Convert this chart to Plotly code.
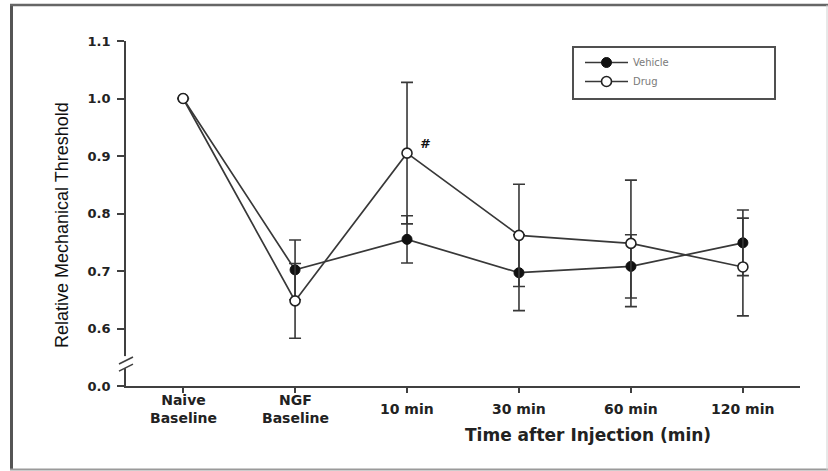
import plotly.graph_objects as go

# Time points and group means (relative mechanical threshold) with error values
time_points = ["Naive<br>Baseline", "NGF<br>Baseline", "10 min", "30 min", "60 min", "120 min"]
vehicle_mean = [1.0, 0.702, 0.755, 0.697, 0.708, 0.749]
vehicle_err = [None, 0.052, 0.041, 0.066, 0.055, 0.057]
drug_mean = [1.0, 0.648, 0.905, 0.762, 0.748, 0.707]
drug_err = [None, 0.065, 0.123, 0.089, 0.110, 0.085]

# Broken y axis: the bottom tick stands for 0.0 and sits one step below 0.6
y_tick_vals = [0.5, 0.6, 0.7, 0.8, 0.9, 1.0, 1.1]
y_tick_text = ["0.0", "0.6", "0.7", "0.8", "0.9", "1.0", "1.1"]

x_pos = list(range(len(time_points)))

W, H = 828, 471
ML, MR, MT, MB = 126, 28, 41, 85
PW, PH = W - ML - MR, H - MT - MB


def pxx(px):
    return (px - ML) / PW


def pxy(py):
    return (H - MB - py) / PH


LINE = "#383838"
AXIS = "#404040"
TXT = "#222222"

fig = go.Figure()

fig.add_trace(go.Scatter(
    x=x_pos, y=vehicle_mean, name="Vehicle", mode="lines+markers",
    line=dict(color=LINE, width=1.7),
    marker=dict(symbol="circle", size=10, color="#111111",
                line=dict(color="#111111", width=1)),
    error_y=dict(type="data", array=vehicle_err, visible=True,
                 color=LINE, thickness=1.6, width=6),
))
fig.add_trace(go.Scatter(
    x=x_pos, y=drug_mean, name="Drug", mode="lines+markers",
    line=dict(color=LINE, width=1.7),
    marker=dict(symbol="circle", size=10, color="white",
                line=dict(color="#222222", width=1.6)),
    error_y=dict(type="data", array=drug_err, visible=True,
                 color=LINE, thickness=1.6, width=6),
))

annotations = []
# category labels under the x axis, vertically centred on one line
for xp, lab in zip(x_pos, time_points):
    annotations.append(dict(
        x=xp, xref="x", y=pxy(409.5), yref="paper", text=lab, showarrow=False,
        xanchor="center", yanchor="middle",
        font=dict(family="DejaVu Sans", size=14, color=TXT, weight="bold"),
    ))

annotations.append(dict(
    x=pxx(588), xref="paper", y=pxy(435), yref="paper",
    text="Time after Injection (min)", showarrow=False,
    xanchor="center", yanchor="middle",
    font=dict(family="DejaVu Sans", size=17, color=TXT, weight="bold"),
))
annotations.append(dict(
    x=pxx(62), xref="paper", y=pxy(225), yref="paper",
    text="Relative Mechanical Threshold", showarrow=False, textangle=-90,
    xanchor="center", yanchor="middle",
    font=dict(family="Liberation Sans", size=18, color="#111111"),
))
# significance mark at the 10 min drug point
annotations.append(dict(
    x=x_pos[2], xref="x", y=drug_mean[2], yref="y", text="<i>#</i>",
    showarrow=False, xshift=18, yshift=10,
    font=dict(family="DejaVu Sans", size=13, color="#111111", weight="bold"),
))

shapes = []
# legend frame
shapes.append(dict(type="rect", xref="paper", yref="paper",
                   x0=pxx(573), x1=pxx(775), y0=pxy(99), y1=pxy(47),
                   line=dict(color="#505050", width=2), fillcolor="rgba(0,0,0,0)"))
# axis break: mask a gap in the y axis line, then draw two slashes
shapes.append(dict(type="rect", xref="paper", yref="y",
                   xsizemode="pixel", xanchor=0, x0=-4, x1=4,
                   y0=0.531, y1=0.552, line=dict(width=0), fillcolor="white",
                   layer="above"))
for yc in (0.5445, 0.532):
    shapes.append(dict(type="line", xref="paper", yref="y",
                       xsizemode="pixel", xanchor=0, x0=-7, x1=7,
                       ysizemode="pixel", yanchor=yc, y0=-3.5, y1=3.5,
                       line=dict(color=AXIS, width=1.6), layer="above"))
# outer frame around the figure
shapes.append(dict(type="line", xref="paper", yref="paper",
                   x0=pxx(11.5), x1=pxx(11.5), y0=pxy(4), y1=pxy(470),
                   line=dict(color="#555555", width=3)))
shapes.append(dict(type="line", xref="paper", yref="paper",
                   x0=pxx(10), x1=pxx(828), y0=pxy(5), y1=pxy(5),
                   line=dict(color="#666666", width=2.5)))
shapes.append(dict(type="line", xref="paper", yref="paper",
                   x0=pxx(10), x1=pxx(828), y0=pxy(469.5), y1=pxy(469.5),
                   line=dict(color="#9a9a9a", width=2)))
shapes.append(dict(type="line", xref="paper", yref="paper",
                   x0=pxx(827), x1=pxx(827), y0=pxy(5), y1=pxy(470),
                   line=dict(color="#d0d0d0", width=1)))

fig.update_layout(
    width=W, height=H,
    margin=dict(l=ML, r=MR, t=MT, b=MB, pad=0),
    paper_bgcolor="white", plot_bgcolor="white",
    showlegend=True,
    legend=dict(
        x=pxx(580), xanchor="left", y=pxy(48), yanchor="top",
        bgcolor="rgba(0,0,0,0)", borderwidth=0, itemwidth=43,
        font=dict(family="DejaVu Sans", size=10, color="#7a7a7a"),
        tracegroupgap=0,
    ),
    xaxis=dict(
        range=[-0.51, 5.51], tickvals=x_pos, showticklabels=False,
        showgrid=False, zeroline=False, showline=True,
        linecolor=AXIS, linewidth=1.8,
        ticks="outside", ticklen=5, tickwidth=1.5, tickcolor=AXIS,
    ),
    yaxis=dict(
        range=[0.5, 1.1], tickvals=y_tick_vals, ticktext=y_tick_text,
        showgrid=False, zeroline=False, showline=True,
        linecolor=AXIS, linewidth=1.8,
        ticks="outside", ticklen=7, tickwidth=1.5, tickcolor=AXIS,
        ticklabelstandoff=4,
        tickfont=dict(family="DejaVu Sans", size=13, color=TXT, weight="bold"),
    ),
    annotations=annotations,
    shapes=shapes,
)

fig.write_html("out.html")
